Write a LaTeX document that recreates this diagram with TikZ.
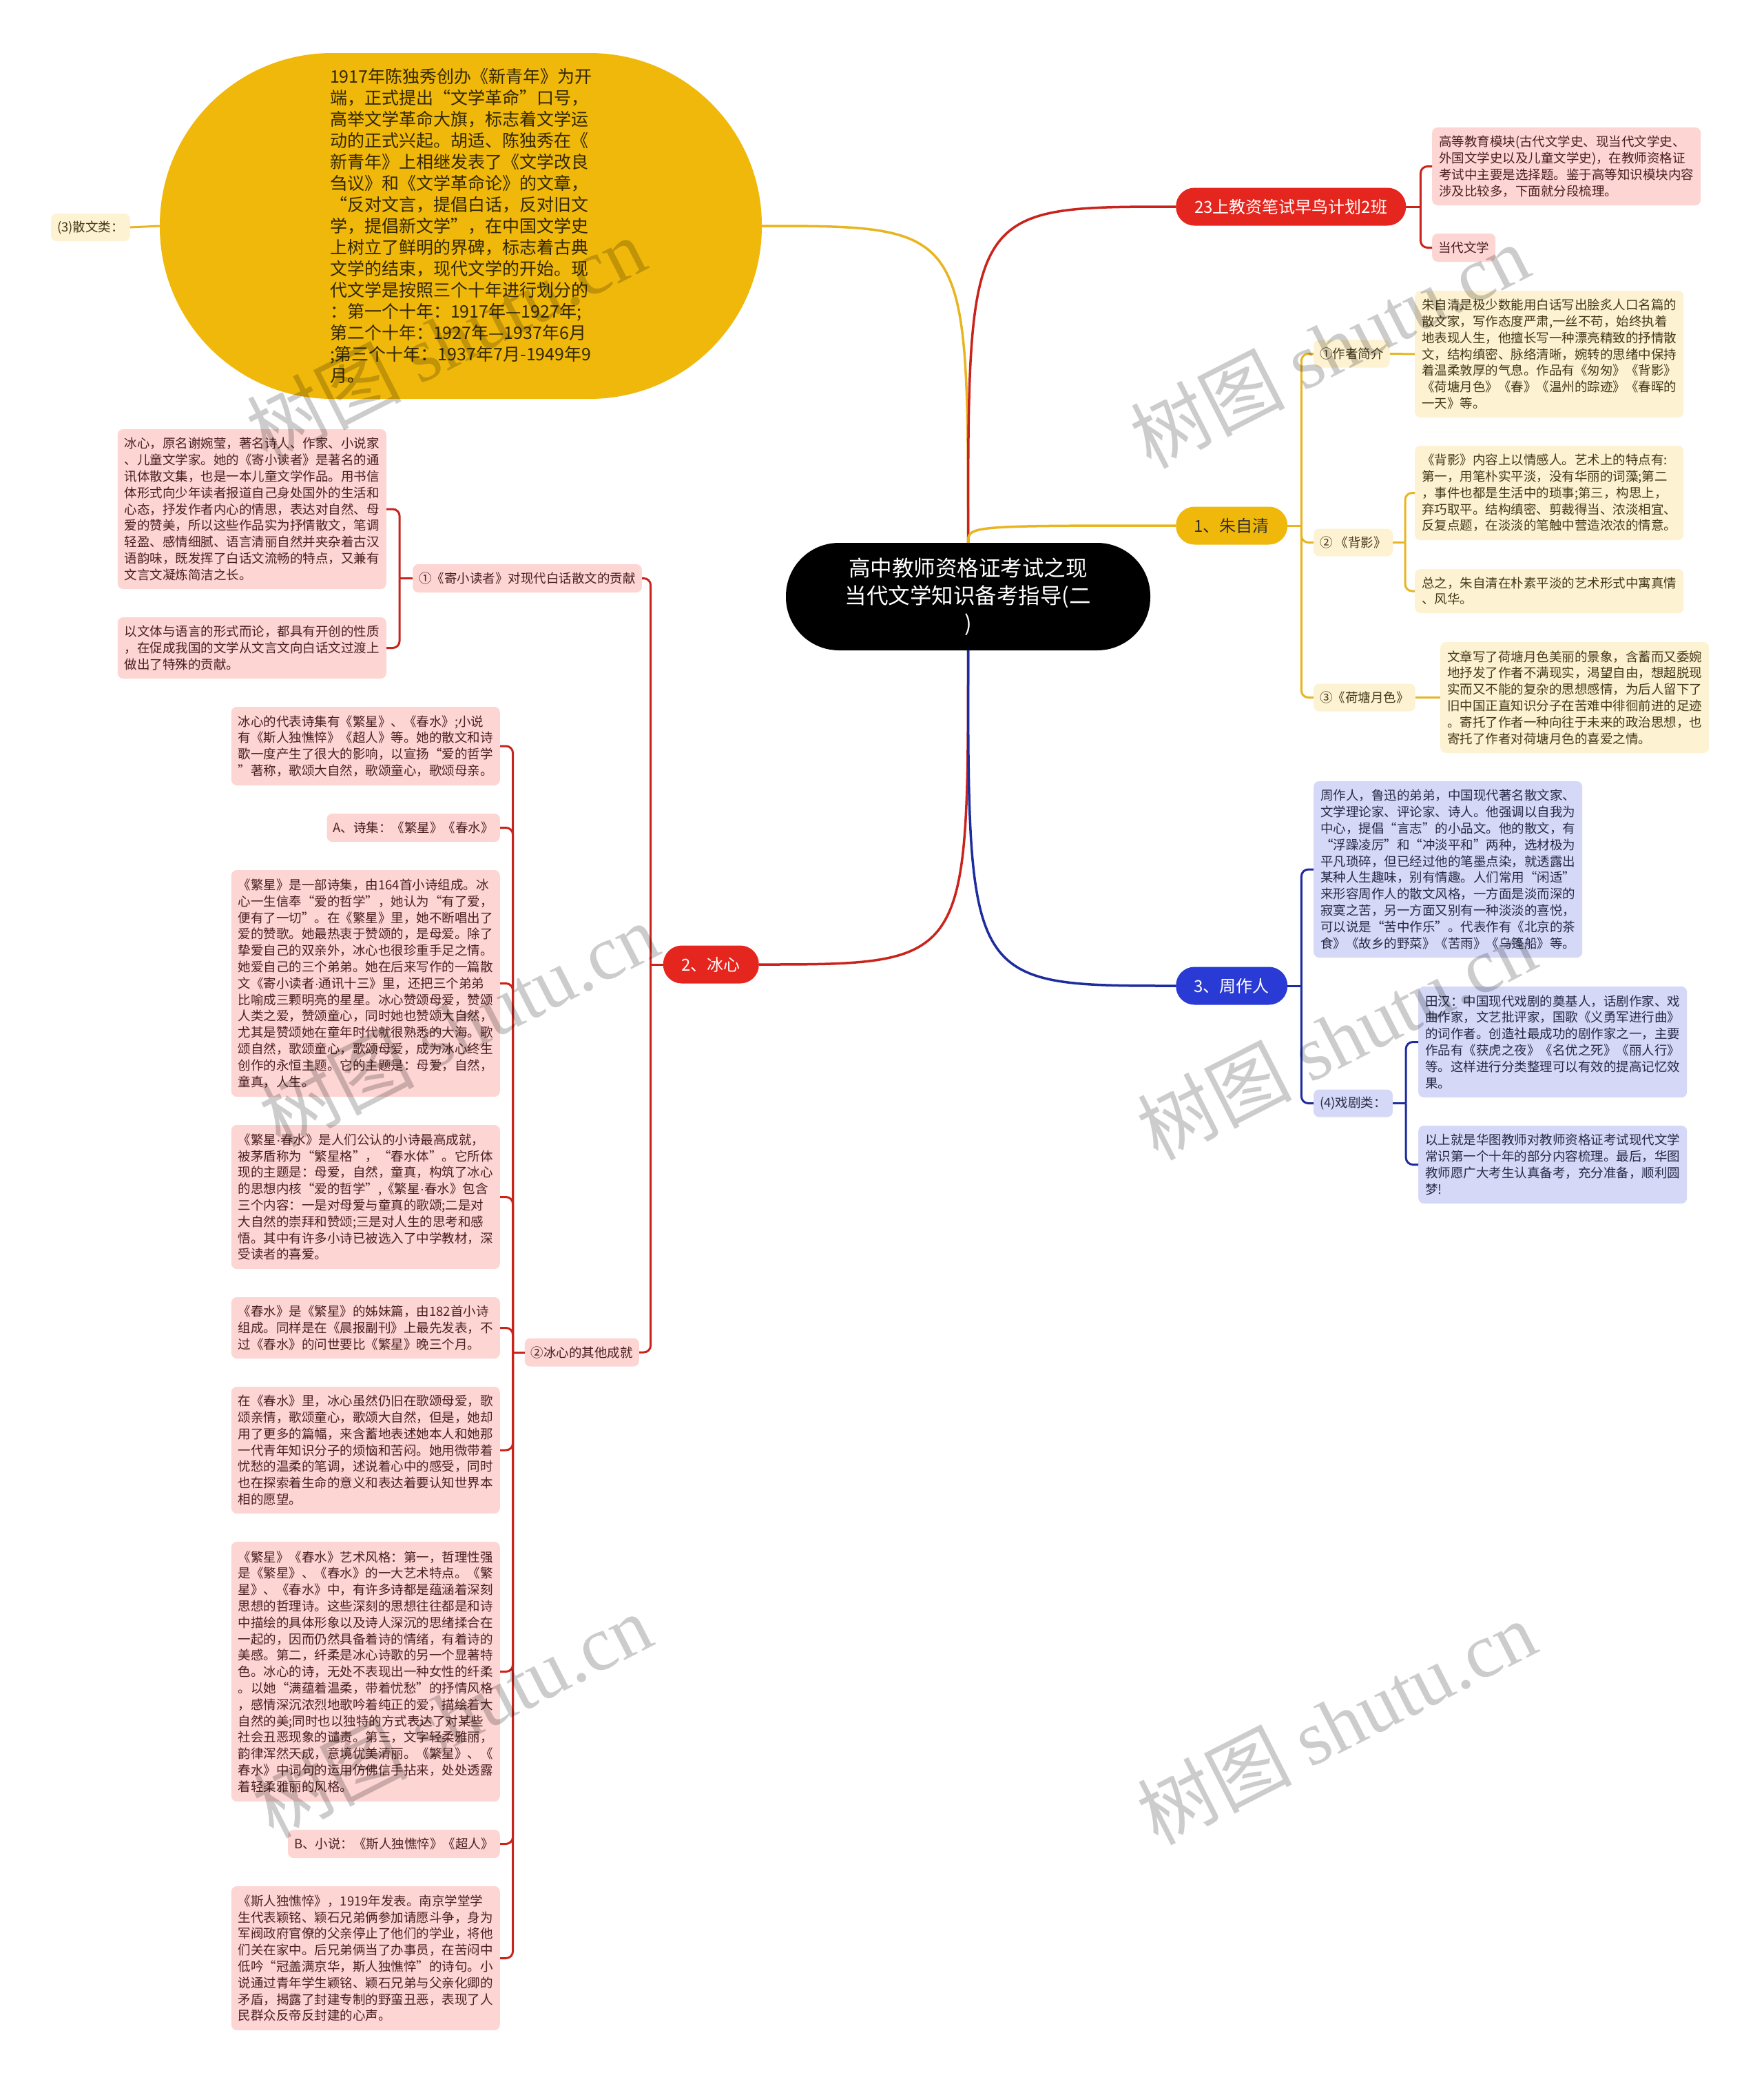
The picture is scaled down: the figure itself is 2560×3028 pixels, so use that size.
\documentclass[tikz,border=0pt]{standalone}
\usepackage{fontspec}
\setmainfont{Noto Sans CJK SC}
\newfontfamily\wmlatin{Liberation Serif}
\newfontfamily\latinfont{Liberation Sans}
\newcommand{\mdot}{{\latinfont ·}}
\usetikzlibrary{calc}
\definecolor{cred}{HTML}{E5261E}
\definecolor{credline}{HTML}{C9241C}
\definecolor{cyel}{HTML}{F0B80A}
\definecolor{cyelline}{HTML}{E8B520}
\definecolor{cblue}{HTML}{2A3AD4}
\definecolor{cblueline}{HTML}{1D2C9E}
\definecolor{fpink}{HTML}{FDD5D3}
\definecolor{fyel}{HTML}{FDF2D1}
\definecolor{fblue}{HTML}{D5D9F7}
\definecolor{tpink}{HTML}{4A2020}
\definecolor{tyel}{HTML}{45391A}
\definecolor{tblue}{HTML}{252A45}
\definecolor{tell}{HTML}{332800}
\begin{document}
\begin{tikzpicture}[x=1pt,y=-1pt,
  every node/.style={inner sep=0pt},
  bx/.style={rounded corners=8pt, inner xsep=10pt, inner ysep=0pt, text width=370pt, align=left, font=\fontsize{18.5}{23.8}\selectfont},
  pinkbox/.style={bx, fill=fpink, text=tpink},
  yelbox/.style={bx, fill=fyel, text=tyel},
  bluebox/.style={bx, fill=fblue, text=tblue},
  lbl/.style={rounded corners=8pt, inner xsep=9pt, inner ysep=0pt, minimum height=40pt, font=\fontsize{18.5}{23.8}\selectfont},
  pinklbl/.style={lbl, fill=fpink, text=tpink},
  yellbl/.style={lbl, fill=fyel, text=tyel},
  bluelbl/.style={lbl, fill=fblue, text=tblue},
  pill/.style={rounded corners=27pt, minimum height=55pt, font=\fontsize{24}{28}\selectfont},
  lnred/.style={draw=credline, line width=3pt},
  lnyel/.style={draw=cyelline, line width=3pt},
  lnblue/.style={draw=cblueline, line width=3pt},
  wm/.style={text=black, text opacity=0.2, font=\fontsize{112}{120}\selectfont, rotate=27}
]
\useasboundingbox (0,0) rectangle (2560,3028);
\fill[white] (0,0) rectangle (2560,3028);

% central topic
\node[fill=black, text=white, rounded corners=77pt, minimum width=529pt, minimum height=156pt, align=center, font=\fontsize{31.5}{40}\selectfont] (center) at (1405.5,866) {高中教师资格证考试之现\\当代文学知识备考指导(二\\)};

% big ellipse
\node[fill=cyel, text=tell, rounded corners=250pt, minimum width=874pt, minimum height=502pt, text width=380pt, align=left, font=\fontsize{25}{31}\selectfont] (ell) at (669,328) {1917年陈独秀创办《新青年》为开\\端，正式提出“文学革命”口号，\\高举文学革命大旗，标志着文学运\\动的正式兴起。胡适、陈独秀在《\\新青年》上相继发表了《文学改良\\刍议》和《文学革命论》的文章，\\“反对文言，提倡白话，反对旧文\\学，提倡新文学”，在中国文学史\\上树立了鲜明的界碑，标志着古典\\文学的结束，现代文学的开始。现\\代文学是按照三个十年进行划分的\\：第一个十年：1917年—1927年;\\第二个十年：1927年—1937年6月\\;第三个十年：1937年7月-1949年9\\月。};
\node[yellbl, anchor=east] (ella) at (189,330) {(3)散文类：};

% right branch 1
\node[pill, fill=cred, text=white, minimum width=334pt, anchor=west] (r1) at (1707,300) {23上教资笔试早鸟计划2班};
\node[pinkbox, minimum height=113pt, anchor=west] (r1a) at (2079,241.5) {高等教育模块(古代文学史、现当代文学史、\\外国文学史以及儿童文学史)，在教师资格证\\考试中主要是选择题。鉴于高等知识模块内容\\涉及比较多，下面就分段梳理。};
\node[pinklbl, minimum height=41pt, anchor=west] (r1b) at (2079,359.5) {当代文学};

% right branch 2
\node[pill, fill=cyel, text=black!80, minimum width=162pt, anchor=west] (r2) at (1707,763) {1、朱自清};
\node[yellbl, anchor=west] (r2a) at (1907,513.5) {①作者简介};
\node[yelbox, minimum height=184pt, anchor=west] (r2at) at (2054,514) {朱自清是极少数能用白话写出脍炙人口名篇的\\散文家，写作态度严肃,一丝不苟，始终执着\\地表现人生，他擅长写一种漂亮精致的抒情散\\文，结构缜密、脉络清晰，婉转的思绪中保持\\着温柔敦厚的气息。作品有《匆匆》《背影》\\《荷塘月色》《春》《温州的踪迹》《春晖的\\一天》等。};
\node[yellbl, anchor=west] (r2b) at (1907,787.5) {② 《背影》};
\node[yelbox, minimum height=137pt, anchor=west] (r2ba) at (2054,715.5) {《背影》内容上以情感人。艺术上的特点有:\\第一，用笔朴实平淡，没有华丽的词藻;第二\\，事件也都是生活中的琐事;第三，构思上，\\弃巧取平。结构缜密、剪裁得当、浓淡相宜、\\反复点题，在淡淡的笔触中营造浓浓的情意。};
\node[yelbox, minimum height=64pt, anchor=west] (r2bb) at (2054,858) {总之，朱自清在朴素平淡的艺术形式中寓真情\\、风华。};
\node[yellbl, anchor=west] (r2c) at (1907,1012.5) {③《荷塘月色》};
\node[yelbox, minimum height=161pt, anchor=west] (r2ct) at (2091,1012.5) {文章写了荷塘月色美丽的景象，含蓄而又委婉\\地抒发了作者不满现实，渴望自由，想超脱现\\实而又不能的复杂的思想感情，为后人留下了\\旧中国正直知识分子在苦难中徘徊前进的足迹\\。寄托了作者一种向往于未来的政治思想，也\\寄托了作者对荷塘月色的喜爱之情。};

% right branch 3
\node[pill, fill=cblue, text=white, minimum width=162pt, anchor=west] (r3) at (1707,1431) {3、周作人};
\node[bluebox, minimum height=256pt, anchor=west] (r3a) at (1907,1262) {周作人，鲁迅的弟弟，中国现代著名散文家、\\文学理论家、评论家、诗人。他强调以自我为\\中心，提倡“言志”的小品文。他的散文，有\\“浮躁凌厉”和“冲淡平和”两种，选材极为\\平凡琐碎，但已经过他的笔墨点染，就透露出\\某种人生趣味，别有情趣。人们常用“闲适”\\来形容周作人的散文风格，一方面是淡而深的\\寂寞之苦，另一方面又别有一种淡淡的喜悦，\\可以说是“苦中作乐”。代表作有《北京的茶\\食》《故乡的野菜》《苦雨》《乌篷船》等。};
\node[bluelbl, anchor=west] (r3b) at (1907,1601.5) {(4)戏剧类：};
\node[bluebox, minimum height=161pt, anchor=west] (r3ba) at (2059,1512.5) {田汉：中国现代戏剧的奠基人，话剧作家、戏\\曲作家，文艺批评家，国歌《义勇军进行曲》\\的词作者。创造社最成功的剧作家之一，主要\\作品有《获虎之夜》《名优之死》《丽人行》\\等。这样进行分类整理可以有效的提高记忆效\\果。};
\node[bluebox, minimum height=113pt, anchor=west] (r3bb) at (2059,1690.5) {以上就是华图教师对教师资格证考试现代文学\\常识第一个十年的部分内容梳理。最后，华图\\教师愿广大考生认真备考，充分准备，顺利圆\\梦!};

% left branch
\node[pill, fill=cred, text=white, minimum width=139pt, anchor=east] (l1) at (1102,1400) {2、冰心};
\node[pinklbl, minimum height=41pt, anchor=east] (l1a) at (932,839.5) {①《寄小读者》对现代白话散文的贡献};
\node[pinkbox, minimum height=232pt, anchor=east] (l1aa) at (561,739) {冰心，原名谢婉莹，著名诗人、作家、小说家\\、儿童文学家。她的《寄小读者》是著名的通\\讯体散文集，也是一本儿童文学作品。用书信\\体形式向少年读者报道自己身处国外的生活和\\心态，抒发作者内心的情思，表达对自然、母\\爱的赞美，所以这些作品实为抒情散文，笔调\\轻盈、感情细腻、语言清丽自然并夹杂着古汉\\语韵味，既发挥了白话文流畅的特点，又兼有\\文言文凝炼简洁之长。};
\node[pinkbox, minimum height=89pt, anchor=east] (l1ab) at (561,940.5) {以文体与语言的形式而论，都具有开创的性质\\，在促成我国的文学从文言文向白话文过渡上\\做出了特殊的贡献。};
\node[pinklbl, minimum height=41pt, anchor=east] (l1b) at (928,1963) {②冰心的其他成就};

\node[pinkbox, minimum height=114pt, anchor=east] (c1) at (726,1083) {冰心的代表诗集有《繁星》、《春水》;小说\\有《斯人独憔悴》《超人》等。她的散文和诗\\歌一度产生了很大的影响，以宣扬“爱的哲学\\”著称，歌颂大自然，歌颂童心，歌颂母亲。};
\node[pinklbl, minimum height=41pt, anchor=east] (c2) at (726,1201.5) {A、诗集：《繁星》《春水》};
\node[pinkbox, minimum height=329pt, anchor=east] (c3) at (726,1427.5) {《繁星》是一部诗集，由164首小诗组成。冰\\心一生信奉“爱的哲学”，她认为“有了爱，\\便有了一切”。在《繁星》里，她不断唱出了\\爱的赞歌。她最热衷于赞颂的，是母爱。除了\\挚爱自己的双亲外，冰心也很珍重手足之情。\\她爱自己的三个弟弟。她在后来写作的一篇散\\文《寄小读者\mdot 通讯十三》里，还把三个弟弟\\比喻成三颗明亮的星星。冰心赞颂母爱，赞颂\\人类之爱，赞颂童心，同时她也赞颂大自然，\\尤其是赞颂她在童年时代就很熟悉的大海。歌\\颂自然，歌颂童心，歌颂母爱，成为冰心终生\\创作的永恒主题。它的主题是：母爱，自然，\\童真，人生。};
\node[pinkbox, minimum height=209pt, anchor=east] (c4) at (726,1737.5) {《繁星\mdot 春水》是人们公认的小诗最高成就，\\被茅盾称为“繁星格”，“春水体”。它所体\\现的主题是：母爱，自然，童真，构筑了冰心\\的思想内核“爱的哲学”,《繁星\mdot 春水》包含\\三个内容：一是对母爱与童真的歌颂;二是对\\大自然的崇拜和赞颂;三是对人生的思考和感\\悟。其中有许多小诗已被选入了中学教材，深\\受读者的喜爱。};
\node[pinkbox, minimum height=89pt, anchor=east] (c5) at (726,1927.5) {《春水》是《繁星》的姊妹篇，由182首小诗\\组成。同样是在《晨报副刊》上最先发表，不\\过《春水》的问世要比《繁星》晚三个月。};
\node[pinkbox, minimum height=184pt, anchor=east] (c6) at (726,2105) {在《春水》里，冰心虽然仍旧在歌颂母爱，歌\\颂亲情，歌颂童心，歌颂大自然，但是，她却\\用了更多的篇幅，来含蓄地表述她本人和她那\\一代青年知识分子的烦恼和苦闷。她用微带着\\忧愁的温柔的笔调，述说着心中的感受，同时\\也在探索着生命的意义和表达着要认知世界本\\相的愿望。};
\node[pinkbox, minimum height=377pt, anchor=east] (c7) at (726,2426.5) {《繁星》《春水》艺术风格：第一，哲理性强\\是《繁星》、《春水》的一大艺术特点。《繁\\星》、《春水》中，有许多诗都是蕴涵着深刻\\思想的哲理诗。这些深刻的思想往往都是和诗\\中描绘的具体形象以及诗人深沉的思绪揉合在\\一起的，因而仍然具备着诗的情绪，有着诗的\\美感。第二，纤柔是冰心诗歌的另一个显著特\\色。冰心的诗，无处不表现出一种女性的纤柔\\。以她“满蕴着温柔，带着忧愁”的抒情风格\\，感情深沉浓烈地歌吟着纯正的爱，描绘着大\\自然的美;同时也以独特的方式表达了对某些\\社会丑恶现象的谴责。第三，文字轻柔雅丽，\\韵律浑然天成，意境优美清丽。《繁星》、《\\春水》中词句的运用仿佛信手拈来，处处透露\\着轻柔雅丽的风格。};
\node[pinklbl, minimum height=41pt, anchor=east] (c8) at (726,2676.5) {B、小说：《斯人独憔悴》《超人》};
\node[pinkbox, minimum height=209pt, anchor=east] (c9) at (726,2842.5) {《斯人独憔悴》，1919年发表。南京学堂学\\生代表颖铭、颖石兄弟俩参加请愿斗争，身为\\军阀政府官僚的父亲停止了他们的学业，将他\\们关在家中。后兄弟俩当了办事员，在苦闷中\\低吟“冠盖满京华，斯人独憔悴”的诗句。小\\说通过青年学生颖铭、颖石兄弟与父亲化卿的\\矛盾，揭露了封建专制的野蛮丑恶，表现了人\\民群众反帝反封建的心声。};

% ---------- connectors ----------
\draw[lnyel, line width=3.5pt] (center.north) .. controls (center.north |- ell.east) .. (ell.east);
\draw[lnred, line width=3.5pt] (center.north) .. controls (center.north |- r1.west) .. (r1.west);
\draw[lnyel, line width=3.5pt] (center.north) .. controls (center.north |- r2.west) .. (r2.west);
\draw[lnred, line width=3.5pt] (center.south) .. controls (center.south |- l1.east) .. (l1.east);
\draw[lnblue, line width=3.5pt] (center.south) .. controls (center.south |- r3.west) .. (r3.west);

\draw[lnyel] (ell.west) -- (ella.east);

% 23上
\coordinate (b1) at ($(r1.east)+(21,0)$);
\draw[lnred] (r1.east) -- (b1);
\draw[lnred, rounded corners=10pt] (b1) |- (r1a.west);
\draw[lnred, rounded corners=10pt] (b1) |- (r1b.west);

% 朱自清
\coordinate (b2) at ($(r2.east)+(20,0)$);
\draw[lnyel] (r2.east) -- (b2);
\draw[lnyel, rounded corners=10pt] (b2) |- (r2a.west);
\draw[lnyel, rounded corners=10pt] (b2) |- (r2b.west);
\draw[lnyel, rounded corners=10pt] (b2) |- (r2c.west);
\draw[lnyel] (r2a.east) -- (r2at.west);
\draw[lnyel] (r2c.east) -- (r2ct.west);
\coordinate (b2b) at ($(r2b.east)+(18,0)$);
\draw[lnyel] (r2b.east) -- (b2b);
\draw[lnyel, rounded corners=10pt] (b2b) |- (r2ba.west);
\draw[lnyel, rounded corners=10pt] (b2b) |- (r2bb.west);

% 周作人
\coordinate (b3) at ($(r3.east)+(20,0)$);
\draw[lnblue] (r3.east) -- (b3);
\draw[lnblue, rounded corners=10pt] (b3) |- (r3a.west);
\draw[lnblue, rounded corners=10pt] (b3) |- (r3b.west);
\coordinate (b3b) at ($(r3b.east)+(19,0)$);
\draw[lnblue] (r3b.east) -- (b3b);
\draw[lnblue, rounded corners=10pt] (b3b) |- (r3ba.west);
\draw[lnblue, rounded corners=10pt] (b3b) |- (r3bb.west);

% 冰心
\coordinate (bl) at ($(l1.west)+(-18,0)$);
\draw[lnred] (l1.west) -- (bl);
\draw[lnred, rounded corners=10pt] (bl) |- (l1a.east);
\draw[lnred, rounded corners=10pt] (bl) |- (l1b.east);
\coordinate (bla) at ($(l1a.west)+(-19,0)$);
\draw[lnred] (l1a.west) -- (bla);
\draw[lnred, rounded corners=10pt] (bla) |- (l1aa.east);
\draw[lnred, rounded corners=10pt] (bla) |- (l1ab.east);
\coordinate (blb) at ($(l1b.west)+(-17,0)$);
\draw[lnred] (l1b.west) -- (blb);
\foreach \c in {c1,c2,c3,c4,c5,c6,c7,c8,c9}{
  \draw[lnred, rounded corners=10pt] (blb) |- (\c.east);
}

% watermarks
\node[wm] (w1) at (647,492) {树图 {\wmlatin shutu.cn}};
\node[wm] (w2) at (1930,502) {树图 {\wmlatin shutu.cn}};
\node[wm] (w3) at (666,1487) {树图 {\wmlatin shutu.cn}};
\node[wm] (w4) at (1940,1506) {树图 {\wmlatin shutu.cn}};
\node[wm] (w5) at (656,2490) {树图 {\wmlatin shutu.cn}};
\node[wm] (w6) at (1940,2500) {树图 {\wmlatin shutu.cn}};
\end{tikzpicture}
\end{document}
